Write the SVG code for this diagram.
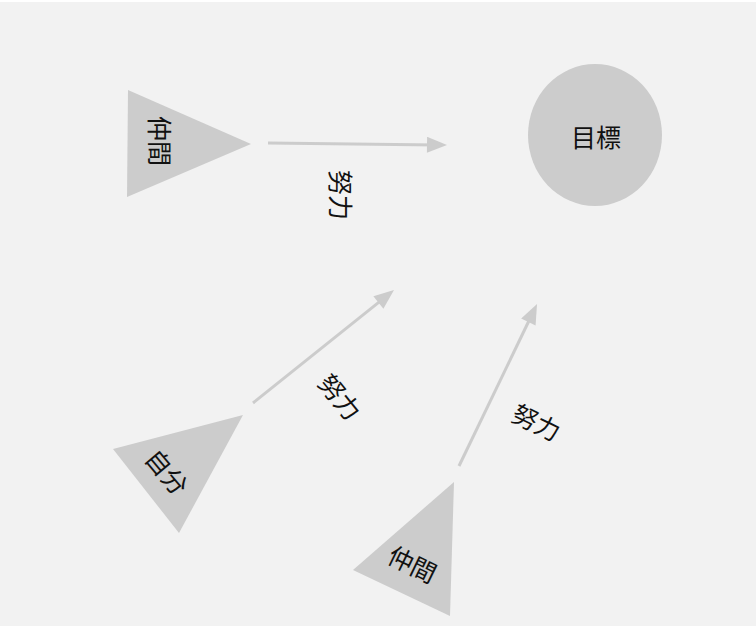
<svg xmlns="http://www.w3.org/2000/svg" width="756" height="626" viewBox="0 0 756 626">
<style>
.bg{fill:#f2f2f2}
.shape{fill:#cccccc;stroke:none}
.edge{stroke:#cccccc;stroke-width:3;fill:none}
.lbl{font-family:"Noto Sans CJK JP","Noto Sans CJK SC",sans-serif;font-size:25px;fill:#111111;text-anchor:middle;dominant-baseline:central}
</style>
<defs>
<marker id="arr" markerUnits="userSpaceOnUse" markerWidth="22" markerHeight="18" viewBox="0 0 22 18" refX="11" refY="8" orient="auto">
<path d="M1,0 L21,8 L1,16 z" fill="#cccccc"/>
</marker>
</defs>
<rect x="0" y="0" width="756" height="626" fill="#ffffff"/>
<rect class="bg" x="0" y="2" width="756" height="624"/>
<g id="connectors">
<g id="edge1"><line class="edge" x1="268" y1="143" x2="437" y2="144.9" marker-end="url(#arr)"/><text class="lbl" transform="translate(342,195) rotate(90)">努力</text></g>
<g id="edge2"><line class="edge" x1="253" y1="403" x2="386.2" y2="296.3" marker-end="url(#arr)"/><text class="lbl" transform="translate(341,396) rotate(51)">努力</text></g>
<g id="edge3"><line class="edge" x1="459" y1="466" x2="532.7" y2="313" marker-end="url(#arr)"/><text class="lbl" transform="translate(537,421) rotate(26)">努力</text></g>
</g>
<g id="goal"><ellipse class="shape" cx="595" cy="135" rx="67" ry="71"/><text class="lbl" x="596" y="136">目標</text></g>
<g id="nakama1"><polygon class="shape" points="128,90 251,144 127,197"/><text class="lbl" transform="translate(161,141) rotate(90)">仲間</text></g>
<g id="jibun"><polygon class="shape" points="113,449 243,415 179,533"/><text class="lbl" transform="translate(168,471) rotate(50)">自分</text></g>
<g id="nakama2"><polygon class="shape" points="454,482 353,570 450,616"/><text class="lbl" transform="translate(413,563) rotate(26)">仲間</text></g>
</svg>
